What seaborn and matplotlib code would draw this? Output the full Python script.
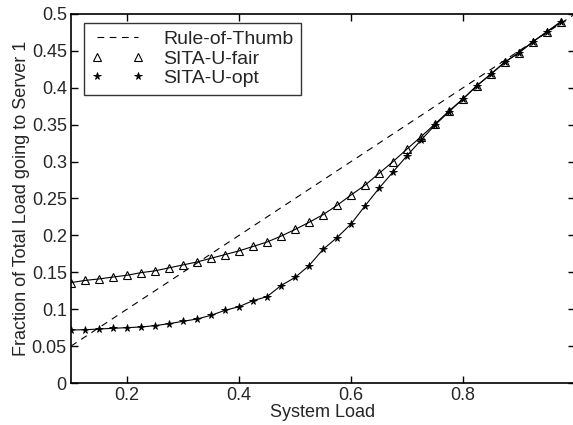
import matplotlib
matplotlib.use('Agg')
import matplotlib.pyplot as plt
import seaborn as sns
import pandas as pd

load = [0.1, 0.125, 0.15, 0.175, 0.2, 0.225, 0.25, 0.275, 0.3, 0.325, 0.35, 0.375,
        0.4, 0.425, 0.45, 0.475, 0.5, 0.525, 0.55, 0.575, 0.6, 0.625, 0.65, 0.675,
        0.7, 0.725, 0.75, 0.775, 0.8, 0.825, 0.85, 0.875, 0.9, 0.925, 0.95, 0.975]
fair = [0.136, 0.139, 0.141, 0.1436, 0.146, 0.1495, 0.152, 0.156, 0.160, 0.164, 0.169, 0.174,
        0.179, 0.185, 0.191, 0.199, 0.208, 0.2177, 0.228, 0.2407, 0.2547, 0.268, 0.284, 0.300,
        0.317, 0.3337, 0.351, 0.3686, 0.385, 0.403, 0.4187, 0.435, 0.4476, 0.4625, 0.476, 0.4896]
opt = [0.0718, 0.0722, 0.0731, 0.0741, 0.0750, 0.0759, 0.0777, 0.0804, 0.0836, 0.0867, 0.0917, 0.0985,
       0.1034, 0.1116, 0.117, 0.132, 0.143, 0.159, 0.181, 0.197, 0.2154, 0.240, 0.2638, 0.286,
       0.308, 0.329, 0.3496, 0.3676, 0.385, 0.403, 0.4187, 0.435, 0.4476, 0.4625, 0.476, 0.4896]
thumb_x = [0.1, 1.0]
thumb_y = [0.05, 0.5]

df = pd.DataFrame({'load': load, 'fair': fair, 'opt': opt})
df_t = pd.DataFrame({'load': thumb_x, 'thumb': thumb_y})

sns.set_style('white', {'xtick.direction': 'in', 'ytick.direction': 'in',
                        'axes.edgecolor': 'black'})
plt.rcParams['font.family'] = ['Liberation Sans', 'DejaVu Sans']
plt.rcParams['xtick.top'] = True
plt.rcParams['ytick.right'] = True
plt.rcParams['xtick.bottom'] = True
plt.rcParams['ytick.left'] = True

fig = plt.figure(figsize=(5.73, 4.25), dpi=100)
ax = fig.add_axes([71/573, 1 - 383/425, 504/573, 369/425])

sns.lineplot(data=df_t, x='load', y='thumb', ax=ax, color='black', linewidth=0.8,
             linestyle=(0, (6, 5)), label='Rule-of-Thumb')
# lines without markers
sns.lineplot(data=df, x='load', y='fair', ax=ax, color='black', linewidth=0.8, legend=False)
sns.lineplot(data=df, x='load', y='opt', ax=ax, color='black', linewidth=0.8, legend=False)
# markers only (this is how the legend shows them)
sns.lineplot(data=df, x='load', y='fair', ax=ax, color='black', linestyle='none',
             marker='^', markersize=6, markerfacecolor='none', markeredgecolor='black',
             markeredgewidth=0.8, label='SITA-U-fair')
sns.lineplot(data=df, x='load', y='opt', ax=ax, color='black', linestyle='none',
             marker='*', markersize=5.5, markerfacecolor='black', markeredgecolor='black',
             markeredgewidth=0.6, label='SITA-U-opt')

ax.set_xlim(0.1, 1.0)
ax.set_ylim(0, 0.5)
ax.set_xticks([0.2, 0.4, 0.6, 0.8])
ax.set_xticklabels(['0.2', '0.4', '0.6', '0.8'])
ax.set_yticks([0, 0.05, 0.1, 0.15, 0.2, 0.25, 0.3, 0.35, 0.4, 0.45, 0.5])
ax.set_yticklabels(['0', '0.05', '0.1', '0.15', '0.2', '0.25', '0.3', '0.35', '0.4', '0.45', '0.5'])
ax.tick_params(which='major', direction='in', length=5, width=1.0, color='black',
               labelsize=13, top=True, right=True, bottom=True, left=True)
ax.tick_params(axis='x', pad=3)
ax.tick_params(axis='y', pad=3)
for s in ax.spines.values():
    s.set_linewidth(1.2)
    s.set_visible(True)
ax.set_xlabel('System Load', fontsize=13, labelpad=0)
ax.set_ylabel('Fraction of Total Load going to Server 1', fontsize=13, labelpad=1)

leg = ax.legend(loc='upper left', bbox_to_anchor=(84/573, 1 - 23/425),
                bbox_transform=fig.transFigure, numpoints=2, handlelength=2.7,
                fontsize=14, frameon=True, fancybox=False, borderaxespad=0,
                handletextpad=1.0, labelspacing=0.1, borderpad=0.38)
leg.get_frame().set_edgecolor('black')
leg.get_frame().set_linewidth(1.0)

fig.savefig('out.png', dpi=100)
